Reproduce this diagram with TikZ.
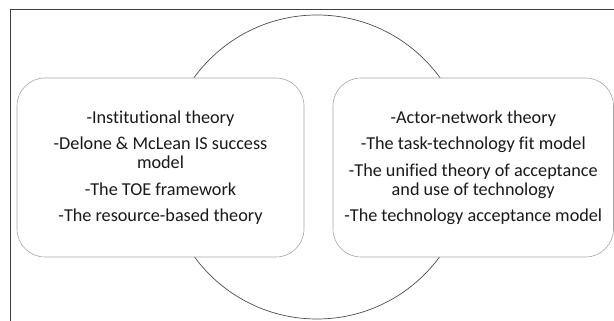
\documentclass[tikz,border=0pt]{standalone}
\usepackage{fontspec}
\setmainfont[Ligatures=NoCommon]{Carlito}
\usetikzlibrary{positioning}

\begin{document}
\begin{tikzpicture}[x=1pt, y=1pt]
    \tikzstyle{theorybox} = [draw=gray!70, fill=white, rectangle, rounded corners=28pt, minimum height=179pt, align=center, font=\fontsize{18.2}{19}\selectfont, text=black!90, line width=0.6pt]
    \useasboundingbox (0,0) rectangle (614,321);
    % outer frame and the circle behind both boxes
    \draw[black!75, line width=0.8pt] (10.5,0) -- (10.5,312) -- (614,312);
    \draw[black!70, line width=0.7pt] (317,154) circle (152pt);

    \node[theorybox, minimum width=287pt] (orgtheories) at (160.5,153.5) {-Institutional theory\\[7.5pt]-Delone \& McLean IS success\\model\\[7.5pt]-The TOE framework\\[7.5pt]-The resource-based theory};
    \node[theorybox, minimum width=280.5pt] (usertheories) at (473.25,153.5) {-Actor-network theory\\[7.5pt]-The task-technology fit model\\[7.5pt]-The unified theory of acceptance\\and use of technology\\[7.5pt]-The technology acceptance model};
\end{tikzpicture}
\end{document}
